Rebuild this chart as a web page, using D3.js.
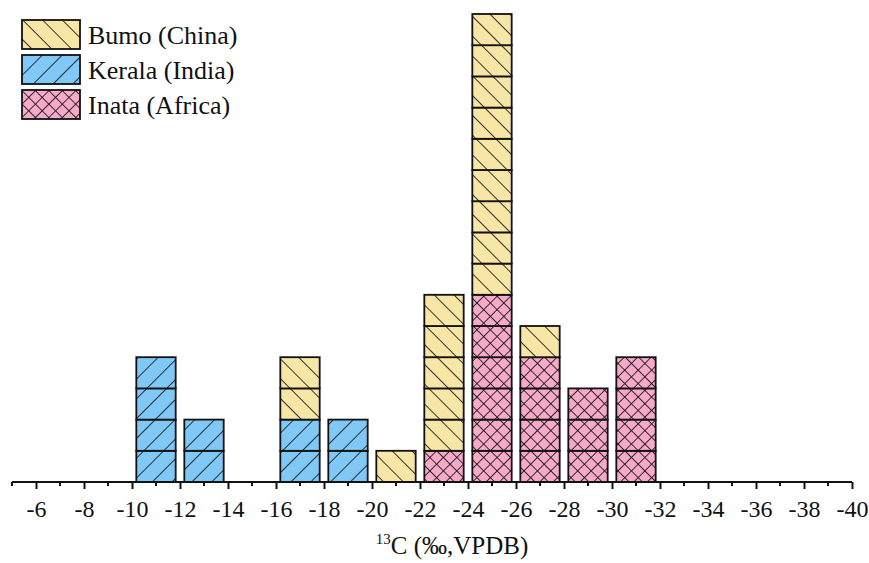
<!DOCTYPE html>
<html>
<head>
<meta charset="utf-8">
<script src="https://cdn.jsdelivr.net/npm/d3@7"></script>
<style>
  html, body { margin: 0; padding: 0; background: #fff; }
  svg { display: block; }
  text { font-family: "Liberation Serif", "Times New Roman", serif; fill: #111; }
</style>
</head>
<body>
<svg id="chart" width="869" height="563"></svg>
<script>
// Histogram bins (centre of each 2‰ bin) and sample counts per site
const binCenters = [-11, -13, -15, -17, -19, -21, -23, -25, -27, -29, -31];
const keralaCounts = [4, 2, 0, 2, 2, 0, 0, 0, 0, 0, 0];
const inataCounts  = [0, 0, 0, 0, 0, 0, 1, 6, 4, 3, 4];
const bumoCounts   = [0, 0, 0, 2, 0, 1, 5, 9, 1, 0, 0];

const seriesNames = ["Bumo (China)", "Kerala (India)", "Inata (Africa)"];
const tickValues = d3.range(-6, -41, -2);
const minorTickValues = d3.range(-5, -41, -1).filter(v => v % 2 !== 0);

const svg = d3.select("#chart");

// Hatch fills
const defs = svg.append("defs");
function hatch(id, fill, angle, spacing, cross) {
  const p = defs.append("pattern")
    .attr("id", id)
    .attr("patternUnits", "userSpaceOnUse")
    .attr("width", spacing).attr("height", spacing)
    .attr("patternTransform", `rotate(${angle})`);
  p.append("rect").attr("width", spacing).attr("height", spacing).attr("fill", fill);
  p.append("line").attr("x1", 0).attr("y1", -1).attr("x2", 0).attr("y2", spacing + 1)
    .attr("stroke", "#111").attr("stroke-width", 1.7);
  if (cross) {
    p.append("line").attr("x1", -1).attr("y1", 0).attr("x2", spacing + 1).attr("y2", 0)
      .attr("stroke", "#111").attr("stroke-width", 1.7);
  }
}
hatch("hatch-bumo", "#F7E6A6", -45, 14, false);
hatch("hatch-kerala", "#80C9F6", 45, 14, false);
hatch("hatch-inata", "#F7AAC7", 45, 9.5, true);

const series = [
  { name: seriesNames[1], counts: keralaCounts, fill: "url(#hatch-kerala)" },
  { name: seriesNames[2], counts: inataCounts,  fill: "url(#hatch-inata)" },
  { name: seriesNames[0], counts: bumoCounts,   fill: "url(#hatch-bumo)" }
];

// Scales
const x = d3.scaleLinear().domain([-5, -40]).range([12, 852]);
const y = d3.scaleLinear().domain([0, 15]).range([482, 14]);
const barHalf = 0.82; // half-width of each bar in ‰

// One box per sample, stacked Kerala → Inata → Bumo
const boxes = [];
binCenters.forEach((c, i) => {
  let base = 0;
  series.forEach(s => {
    for (let k = 0; k < s.counts[i]; k++) {
      boxes.push({ center: c, level: base + k, fill: s.fill });
    }
    base += s.counts[i];
  });
});

svg.append("g").selectAll("rect")
  .data(boxes)
  .join("rect")
  .attr("x", d => x(d.center + barHalf))
  .attr("width", d => x(d.center - barHalf) - x(d.center + barHalf))
  .attr("y", d => y(d.level + 1))
  .attr("height", d => y(d.level) - y(d.level + 1))
  .attr("fill", d => d.fill)
  .attr("stroke", "#111")
  .attr("stroke-width", 1.8);

// X axis
const axisG = svg.append("g").attr("transform", `translate(0,${y(0)})`);
axisG.call(d3.axisBottom(x).tickValues(tickValues).tickSize(7).tickPadding(11)
  .tickFormat(d => String(d)));
axisG.select(".domain").attr("d", `M${x(-5)},0H${x(-40)}`).attr("stroke", "#111").attr("stroke-width", 2);
axisG.selectAll(".tick line").attr("stroke", "#111").attr("stroke-width", 2);
axisG.selectAll(".tick text")
  .style("font-family", '"Liberation Serif", "Times New Roman", serif')
  .style("font-size", "24px").attr("fill", "#111");
axisG.selectAll(".minor").data(minorTickValues).join("line")
  .attr("class", "minor")
  .attr("x1", d => x(d)).attr("x2", d => x(d))
  .attr("y1", 0).attr("y2", 4)
  .attr("stroke", "#111").attr("stroke-width", 2);

// Axis title
const title = svg.append("text")
  .attr("x", 452).attr("y", 554)
  .attr("text-anchor", "middle")
  .style("font-size", "25px");
title.append("tspan").attr("dy", -10).style("font-size", "15px").text("13");
title.append("tspan").attr("dy", 10).text("C (‰,VPDB)");

// Legend
const legendItems = [
  { name: seriesNames[0], fill: "url(#hatch-bumo)" },
  { name: seriesNames[1], fill: "url(#hatch-kerala)" },
  { name: seriesNames[2], fill: "url(#hatch-inata)" }
];
const legend = svg.append("g").attr("transform", "translate(22,20)");
const li = legend.selectAll("g").data(legendItems).join("g")
  .attr("transform", (d, i) => `translate(0,${i * 35})`);
li.append("rect").attr("width", 58).attr("height", 29)
  .attr("fill", d => d.fill).attr("stroke", "#111").attr("stroke-width", 1.8);
li.append("text").attr("x", 66).attr("y", 24)
  .style("font-size", "26px").text(d => d.name);
</script>
</body>
</html>
